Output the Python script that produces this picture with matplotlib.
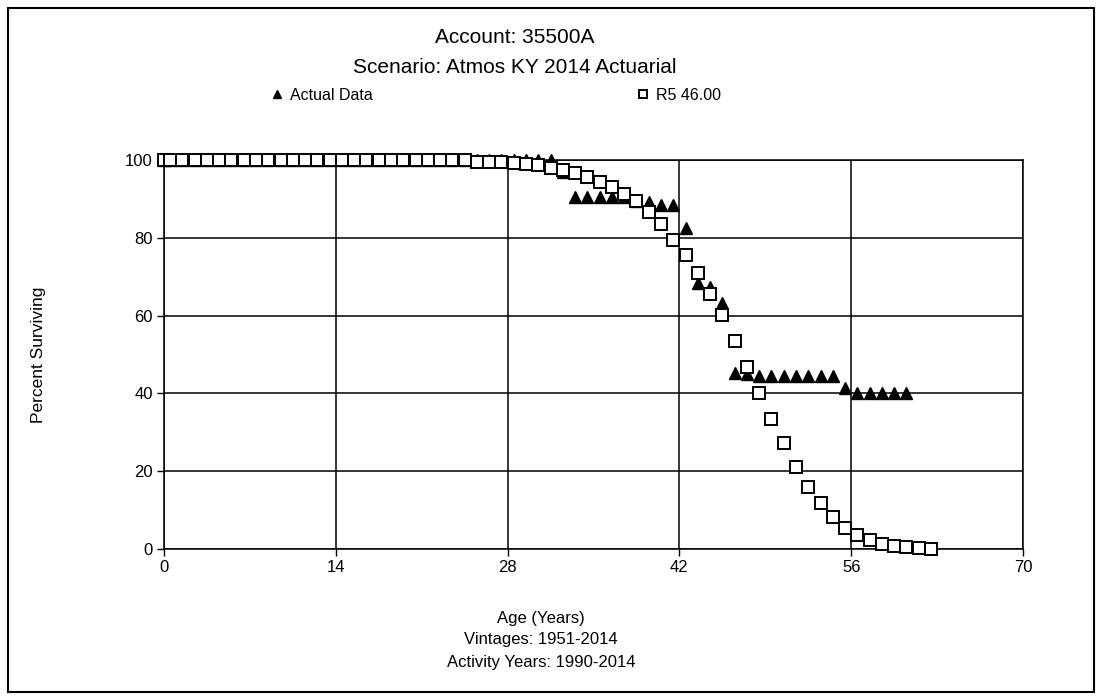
import numpy as np
import matplotlib.pyplot as plt
from matplotlib.patches import Rectangle

plt.rcParams['font.family'] = ['Liberation Sans', 'DejaVu Sans']

# Observed survivors (actual data), age in years
ActualAges = [0.0] + [a + 0.5 for a in range(61)]
ActualPct = ([100.0] * 33 +
             [97.0,
              90.5, 90.5, 90.5, 90.5, 90.5,
              89.5, 89.2, 88.4, 88.4,
              82.5, 68.3, 67.3, 63.2,
              45.3, 45.0,
              44.5, 44.5, 44.5, 44.5, 44.5, 44.5, 44.5,
              41.5,
              40.2, 40.2, 40.2, 40.2, 40.2])

# Iowa curve R5 with 46.00 year average life
CurveAges = [0.0] + [a + 0.5 for a in range(63)]
CurvePct = ([100.0] * 26 +
            [99.6, 99.5, 99.4, 99.2, 99.0, 98.6, 98.0, 97.4, 96.6, 95.6,
             94.4, 93.0, 91.3, 89.4, 86.7, 83.5, 79.5, 75.5, 71.0, 65.6,
             60.1, 53.4, 46.8, 40.1, 33.5, 27.2, 21.1, 15.9, 11.8, 8.2,
             5.4, 3.6, 2.3, 1.4, 0.8, 0.5, 0.3, 0.1])

XTicks = [0, 14, 28, 42, 56, 70]
YTicks = [0, 20, 40, 60, 80, 100]

fig = plt.figure(figsize=(11.02, 7.0), dpi=100)
ax = fig.add_axes([0.1488, 0.2157, 0.7795, 0.5557])

ax.plot(ActualAges, ActualPct, linestyle='none', marker='^', ms=8,
        color='black', label='Actual Data', zorder=3, clip_on=False)
ax.plot(CurveAges, CurvePct, linestyle='none', marker='s', ms=8.3,
        mfc='white', mec='black', mew=1.4, label='R5 46.00', zorder=4, clip_on=False)

ax.set_xlim(0, 70)
ax.set_ylim(0, 100)
ax.set_xticks(XTicks)
ax.set_yticks(YTicks)
ax.grid(True, color='black', linewidth=1.1)
ax.tick_params(direction='out', length=5, width=1, labelsize=12, pad=3)
for s in ax.spines.values():
    s.set_linewidth(1.1)

fig.text(0.467, 0.947, 'Account: 35500A', ha='center', va='center', fontsize=15)
fig.text(0.467, 0.904, 'Scenario: Atmos KY 2014 Actuarial', ha='center', va='center', fontsize=15)

leg = ax.legend(loc='center', bbox_to_anchor=(0.45, 0.864), bbox_transform=fig.transFigure,
                ncol=2, frameon=False, fontsize=11.5, handlelength=0.8,
                handletextpad=0.4, columnspacing=16.5, markerscale=0.7)

fig.text(0.0345, 0.493, 'Percent Surviving', rotation=90, ha='center', va='center', fontsize=12.5)
fig.text(0.491, 0.117, 'Age (Years)', ha='center', va='center', fontsize=12)
fig.text(0.491, 0.086, 'Vintages: 1951-2014', ha='center', va='center', fontsize=12)
fig.text(0.491, 0.053, 'Activity Years: 1990-2014', ha='center', va='center', fontsize=12)

# outer frame round the whole chart
fig.add_artist(Rectangle((0.0073, 0.0114), 0.9855, 0.9772, transform=fig.transFigure,
                         fill=False, edgecolor='black', linewidth=1.5))

fig.savefig('out.png', dpi=100)
